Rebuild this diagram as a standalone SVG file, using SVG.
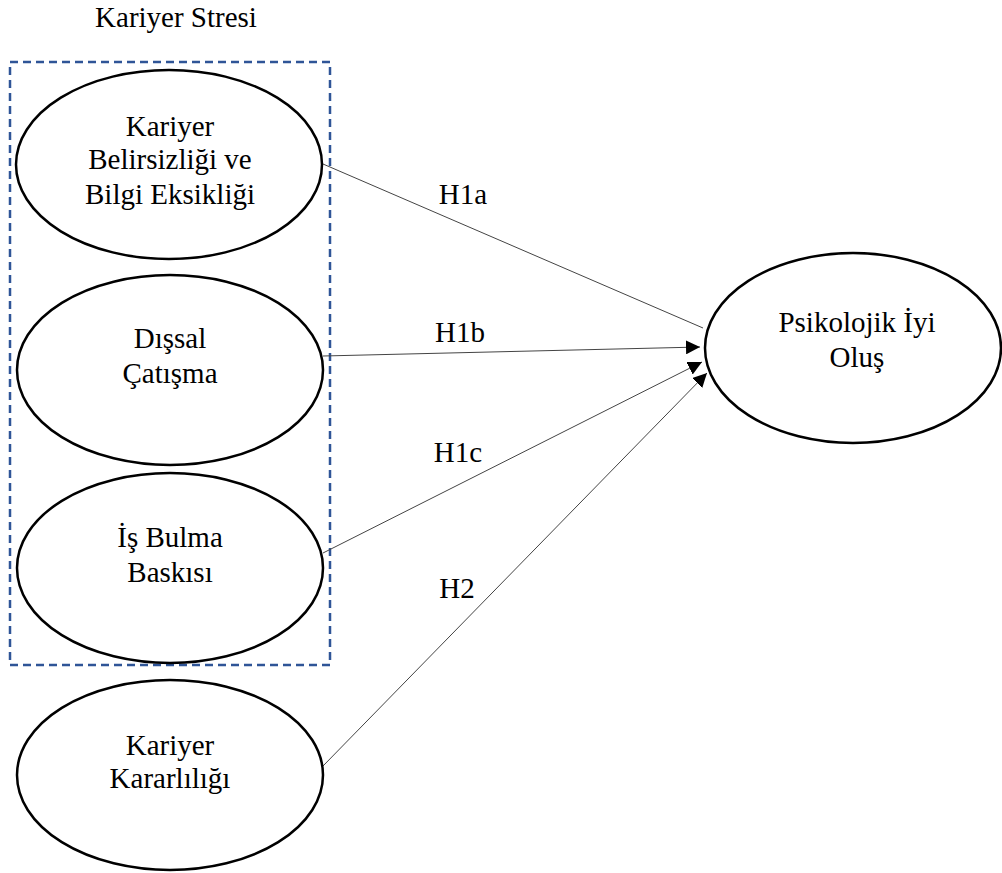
<svg xmlns="http://www.w3.org/2000/svg" width="1002" height="873" viewBox="0 0 1002 873">
<style>
.n{fill:#fff;stroke:#000;stroke-width:2.5}
.t{font-family:"Liberation Serif","Times New Roman",serif;font-size:29px;fill:#000;text-anchor:middle}
.c{fill:none;stroke:#444;stroke-width:1}
</style>
<defs>
<marker id="ah" markerUnits="userSpaceOnUse" markerWidth="14" markerHeight="14" viewBox="0 0 14 14" refX="14" refY="7" orient="auto">
<path d="M0,0 L14,7 L0,14 Z" fill="#000"/>
</marker>
</defs>
<rect width="1002" height="873" fill="#fff"/>
<g id="group-kariyer-stresi">
<rect x="10" y="62" width="320" height="603" fill="none" stroke="#2F5597" stroke-width="2.5" stroke-dasharray="8 5"/>
<text class="t" x="176" y="27">Kariyer Stresi</text>
</g>
<g id="connectors">
<line class="c" x1="323" y1="164" x2="703" y2="328" stroke="#999"/>
<line class="c" x1="323" y1="356" x2="700" y2="347" marker-end="url(#ah)"/>
<line class="c" x1="323" y1="553" x2="702" y2="362" marker-end="url(#ah)"/>
<line class="c" x1="323" y1="766" x2="707" y2="373" marker-end="url(#ah)"/>
<text class="t" x="463" y="204">H1a</text>
<text class="t" x="460" y="342">H1b</text>
<text class="t" x="458" y="462">H1c</text>
<text class="t" x="457" y="598">H2</text>
</g>
<g id="node-belirsizlik">
<ellipse class="n" cx="169" cy="164.5" rx="153" ry="94.5"/>
<text class="t" x="170" y="136">Kariyer</text>
<text class="t" x="170" y="169">Belirsizliği ve</text>
<text class="t" x="170" y="204">Bilgi Eksikliği</text>
</g>
<g id="node-dissal">
<ellipse class="n" cx="170" cy="370" rx="153" ry="95"/>
<text class="t" x="170" y="348">Dışsal</text>
<text class="t" x="170" y="383">Çatışma</text>
</g>
<g id="node-is-bulma">
<ellipse class="n" cx="170" cy="568" rx="153" ry="95"/>
<text class="t" x="170" y="547">İş Bulma</text>
<text class="t" x="170" y="582">Baskısı</text>
</g>
<g id="node-kararlilik">
<ellipse class="n" cx="170" cy="775" rx="153" ry="95"/>
<text class="t" x="170" y="755">Kariyer</text>
<text class="t" x="170" y="788">Kararlılığı</text>
</g>
<g id="node-psikolojik">
<ellipse class="n" cx="853" cy="348" rx="148" ry="95"/>
<text class="t" x="857" y="332">Psikolojik İyi</text>
<text class="t" x="857" y="367">Oluş</text>
</g>
</svg>
